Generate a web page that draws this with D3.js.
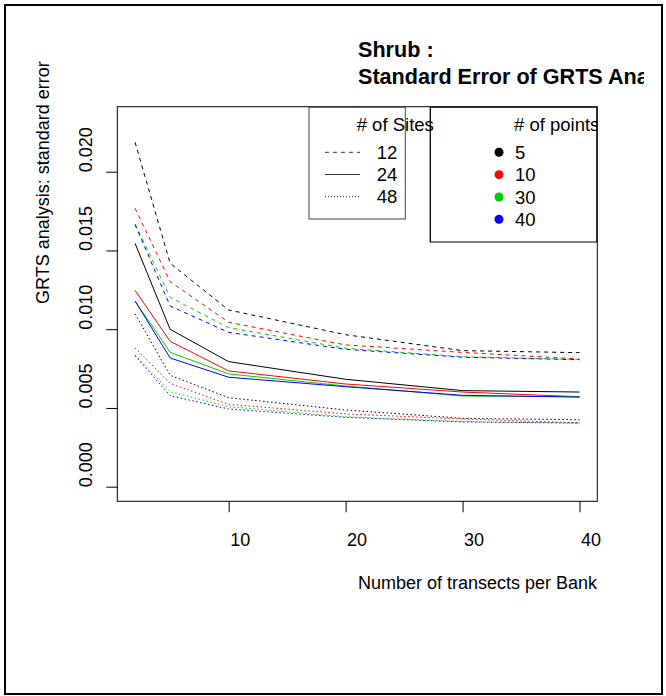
<!DOCTYPE html>
<html>
<head>
<meta charset="utf-8">
<script src="https://cdn.jsdelivr.net/npm/d3@7"></script>
<style>
  body { margin: 0; background: #fff; }
  svg { font-family: "Liberation Sans", Arial, sans-serif; }
</style>
</head>
<body>
<script>
// transects per bank (x values)
var transects = [2, 5, 10, 20, 30, 40];

// standard error, one array per (# of sites, # of points)
var s12p5  = [0.02187, 0.01418, 0.01122, 0.00965, 0.00864, 0.00851];
var s12p10 = [0.01768, 0.01302, 0.01044, 0.00900, 0.00853, 0.00811];
var s12p30 = [0.01668, 0.01202, 0.01010, 0.00879, 0.00825, 0.00808];
var s12p40 = [0.01664, 0.01147, 0.00980, 0.00872, 0.00822, 0.00806];
var s24p5  = [0.01545, 0.00999, 0.00794, 0.00682, 0.00610, 0.00601];
var s24p10 = [0.01247, 0.00923, 0.00735, 0.00652, 0.00601, 0.00571];
var s24p30 = [0.01179, 0.00853, 0.00716, 0.00639, 0.00576, 0.00571];
var s24p40 = [0.01179, 0.00817, 0.00695, 0.00635, 0.00580, 0.00569];
var s48p5  = [0.01097, 0.00707, 0.00565, 0.00487, 0.00434, 0.00425];
var s48p10 = [0.00881, 0.00656, 0.00523, 0.00462, 0.00430, 0.00406];
var s48p30 = [0.00836, 0.00603, 0.00508, 0.00444, 0.00413, 0.00404];
var s48p40 = [0.00832, 0.00578, 0.00493, 0.00440, 0.00411, 0.00404];

var siteLabels = ["12", "24", "48"];
var pointLabels = ["5", "10", "30", "40"];
var yTicks = [0, 0.005, 0.010, 0.015, 0.020];
var xTicks = [10, 20, 30, 40];

var series = [
  { site: 0, point: 0, values: s12p5 },  { site: 0, point: 1, values: s12p10 },
  { site: 0, point: 2, values: s12p30 }, { site: 0, point: 3, values: s12p40 },
  { site: 1, point: 0, values: s24p5 },  { site: 1, point: 1, values: s24p10 },
  { site: 1, point: 2, values: s24p30 }, { site: 1, point: 3, values: s24p40 },
  { site: 2, point: 0, values: s48p5 },  { site: 2, point: 1, values: s48p10 },
  { site: 2, point: 2, values: s48p30 }, { site: 2, point: 3, values: s48p40 }
];

var colors = ["#000000", "#ff0000", "#00cd00", "#0000ff"];
var dashes = ["4,4", null, "1.5,2.5"];

var width = 666, height = 696;
var plot = { left: 117.3, right: 597.3, top: 106.7, bottom: 501.3 };

var svg = d3.select("body").append("svg")
    .attr("width", width)
    .attr("height", height);

// outer frame
svg.append("rect")
    .attr("x", 5).attr("y", 5)
    .attr("width", 657).attr("height", 689)
    .attr("fill", "none").attr("stroke", "#000").attr("stroke-width", 2);

// R style 4% padding on both axes
var xPad = (40 - 2) * 0.04;
var x = d3.scaleLinear()
    .domain([2 - xPad, 40 + xPad])
    .range([plot.left, plot.right]);

var yPad = 0.0232 * 0.04;
var y = d3.scaleLinear()
    .domain([0 - yPad, 0.0232 + yPad])
    .range([plot.bottom, plot.top]);

svg.append("defs").append("clipPath").attr("id", "plotclip")
  .append("rect")
    .attr("x", plot.left).attr("y", plot.top)
    .attr("width", plot.right - plot.left).attr("height", plot.bottom - plot.top);
svg.select("defs").append("clipPath").attr("id", "figclip")
  .append("rect")
    .attr("x", 0).attr("y", 0).attr("width", 644).attr("height", height);

// lines
var line = d3.line()
    .x(function(d, i) { return x(transects[i]); })
    .y(function(d) { return y(d); });

svg.append("g")
    .attr("clip-path", "url(#plotclip)")
  .selectAll("path")
  .data(series)
  .enter().append("path")
    .attr("d", function(d) { return line(d.values); })
    .attr("fill", "none")
    .attr("stroke", function(d) { return colors[d.point]; })
    .attr("stroke-width", 1)
    .attr("stroke-dasharray", function(d) { return dashes[d.site]; });

// plot box
svg.append("rect")
    .attr("x", plot.left).attr("y", plot.top)
    .attr("width", plot.right - plot.left).attr("height", plot.bottom - plot.top)
    .attr("fill", "none").attr("stroke", "#000").attr("stroke-width", 1);

// y axis
var yAxis = svg.append("g")
    .attr("transform", "translate(" + plot.left + ",0)")
    .call(d3.axisLeft(y).tickValues(yTicks).tickSize(11).tickSizeOuter(0).tickFormat(d3.format(".3f")));
yAxis.select(".domain").remove();
yAxis.selectAll("text")
    .attr("font-size", 18)
    .attr("font-family", "Liberation Sans, Arial, sans-serif")
    .attr("fill", "#000")
    .attr("text-anchor", "start")
    .attr("x", 0).attr("y", 0).attr("dy", 0)
    .attr("transform", "translate(-25.6,0) rotate(-90)");

// x axis
var xAxis = svg.append("g")
    .attr("transform", "translate(0," + plot.bottom + ")")
    .call(d3.axisBottom(x).tickValues(xTicks).tickSize(11).tickSizeOuter(0));
xAxis.select(".domain").remove();
xAxis.selectAll("text")
    .attr("font-size", 18)
    .attr("font-family", "Liberation Sans, Arial, sans-serif")
    .attr("fill", "#000")
    .attr("text-anchor", "start")
    .attr("x", 1).attr("y", 45).attr("dy", 0);

// axis titles
svg.append("text")
    .attr("x", 358).attr("y", 589)
    .attr("font-size", 18)
    .text("Number of transects per Bank");

svg.append("text")
    .attr("transform", "translate(49,304) rotate(-90)")
    .attr("font-size", 18)
    .text("GRTS analysis: standard error");

// title (clipped at the figure edge like the original)
var title = svg.append("g").attr("clip-path", "url(#figclip)");
title.append("text")
    .attr("x", 358).attr("y", 57)
    .attr("font-size", 21.6).attr("font-weight", "bold")
    .text("Shrub :");
title.append("text")
    .attr("x", 358).attr("y", 84.3)
    .attr("font-size", 21.6).attr("font-weight", "bold")
    .text("Standard Error of GRTS Analysis");

// legend: # of points box first, so the Sites title can run over it
var leg2 = svg.append("g");
leg2.append("rect")
    .attr("x", 430.3).attr("y", 107.3)
    .attr("width", 166.4).attr("height", 134.7)
    .attr("fill", "#fff").attr("stroke", "#000").attr("stroke-width", 1);
leg2.append("text")
    .attr("clip-path", "url(#plotclip)")
    .attr("x", 514).attr("y", 130.7)
    .attr("font-size", 18.5)
    .text("# of points");
pointLabels.forEach(function(lab, i) {
  var ly = 152.3 + i * 22.35;
  leg2.append("circle")
      .attr("cx", 499).attr("cy", ly)
      .attr("r", 4.5)
      .attr("fill", colors[i]);
  leg2.append("text")
      .attr("x", 515).attr("y", ly + 6.5)
      .attr("font-size", 18.5)
      .text(lab);
});

// legend: # of Sites
var leg1 = svg.append("g");
leg1.append("rect")
    .attr("x", 309).attr("y", 107.3)
    .attr("width", 96.3).attr("height", 111.7)
    .attr("fill", "#fff").attr("stroke", "#444").attr("stroke-width", 1);
leg1.append("text")
    .attr("x", 356.7).attr("y", 130.7)
    .attr("font-size", 18.5)
    .text("# of Sites");
// redraw the points box edge over the overflowing Sites title
leg1.append("line")
    .attr("x1", 430.3).attr("x2", 430.3)
    .attr("y1", 107.3).attr("y2", 242)
    .attr("stroke", "#000").attr("stroke-width", 1);
siteLabels.forEach(function(lab, i) {
  var ly = 152.3 + i * 22.2;
  leg1.append("line")
      .attr("x1", 325).attr("x2", 360)
      .attr("y1", ly).attr("y2", ly)
      .attr("stroke", "#333").attr("stroke-width", 1)
      .attr("stroke-dasharray", dashes[i] === "1.5,2.5" ? "1,2" : dashes[i]);
  leg1.append("text")
      .attr("x", 376.7).attr("y", ly + 6.5)
      .attr("font-size", 18.5)
      .text(lab);
});
</script>
</body>
</html>
